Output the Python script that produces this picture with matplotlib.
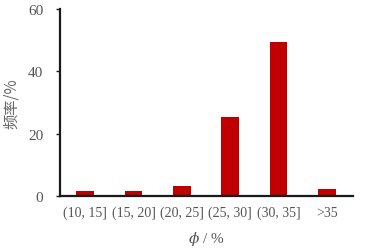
import matplotlib
matplotlib.use("Agg")
import matplotlib.pyplot as plt

categories = ["(10, 15]", "(15, 20]", "(20, 25]", "(25, 30]", "(30, 35]", ">35"]
values = [1.6, 1.6, 3.2, 25.3, 49.4, 2.2]
yticks = [0, 20, 40, 60]

plt.rcParams['font.family'] = ['Liberation Serif', 'Noto Sans CJK SC']
plt.rcParams['mathtext.fontset'] = 'dejavuserif'

fig = plt.figure(figsize=(3.66, 2.53), dpi=100)
ax = fig.add_axes([60/366, 1-197/253, (353-60)/366, (197-10)/253])
x = list(range(len(categories)))
ax.bar(x, values, width=0.37, color="#C00000")
ax.set_xlim(-0.52, 5.54)
ax.set_ylim(0, 60)
ax.set_yticks(yticks)
ax.set_xticks(x)
ax.set_xticklabels(categories, fontsize=10, color="#555555")
ax.tick_params(axis='y', labelsize=11, labelcolor="#555555", direction='out', length=3, width=1, color="#222222", pad=9)
ax.tick_params(axis='x', length=0, pad=7)
for s in ["top", "right"]:
    ax.spines[s].set_visible(False)
for s in ["left", "bottom"]:
    ax.spines[s].set_linewidth(1.6)
    ax.spines[s].set_color("#1a1a1a")
ax.set_ylabel("频率/%", fontsize=11, color="#666666", family=['Noto Sans CJK SC', 'Liberation Serif'], labelpad=6)
ax.set_xlabel("$\\phi$ / %", fontsize=11, color="#555555", labelpad=7)
fig.savefig("out.png", dpi=100)
